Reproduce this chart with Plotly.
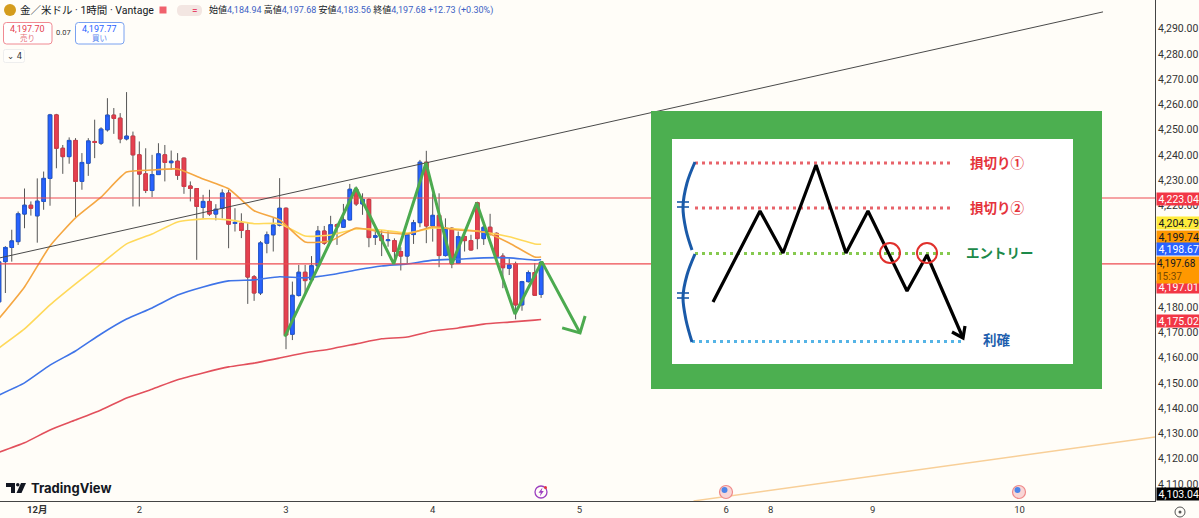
import plotly.graph_objects as go

JP = "Roboto, Noto Sans CJK JP"
UI = "Roboto"
BG = "#fffdf8"

# Hourly candles. Index 0 is the first bar at the left edge
bar_open = [4182, 4197.9, 4203.5, 4205.8, 4216.7, 4220.2, 4216, 4221.7, 4230.8, 4255.9,
            4242.7, 4239.4, 4245.8, 4229.6, 4236.8, 4245.4, 4244.7, 4250, 4255.8, 4254.6,
            4246.4, 4247.5, 4240.1, 4232.6, 4226, 4232.3, 4240.1, 4237, 4237.6, 4238.8,
            4227.8, 4226.8, 4219.3, 4221.7, 4216.7, 4218.9, 4225, 4213, 4213.1, 4210.2,
            4191.9, 4185.5, 4205.2, 4208.5, 4212.3, 4219, 4169.2, 4184.5, 4193.7, 4190.7,
            4196.2, 4210, 4206.2, 4212.5, 4211.5, 4214.4, 4226.5, 4220.7, 4222.5, 4207.5,
            4208.1, 4206.2, 4206.2, 4201.9, 4200.1, 4208.6, 4213.3, 4237.2, 4212, 4216.2,
            4200.3, 4211.1, 4197.3, 4207.8, 4206.2, 4221.2, 4207, 4211.5, 4209.1, 4200.1,
            4195.3, 4197, 4180.8, 4190, 4193.6, 4184.94]
bar_high = [4198, 4204, 4210.5, 4217.7, 4226.8, 4221.7, 4230.8, 4233.5, 4256.3, 4256.3,
            4244, 4247, 4246.7, 4240.8, 4246.7, 4254, 4251, 4262.5, 4258.6, 4256.6,
            4264.9, 4249.3, 4245.4, 4242.7, 4240.1, 4244.7, 4244, 4241.8, 4240.8, 4239,
            4229.6, 4227, 4224.3, 4226.3, 4220.6, 4226.5, 4226.3, 4219, 4217, 4213.1,
            4192.6, 4206, 4209.8, 4215.1, 4230.9, 4219.3, 4190, 4196.6, 4196.6, 4200.1,
            4212, 4212, 4216, 4213, 4220.7, 4228.6, 4227.6, 4224.9, 4222.9, 4211.1,
            4210.4, 4210.2, 4207.1, 4203.6, 4209.1, 4214.4, 4238.1, 4241.7, 4224.9, 4224.9,
            4215, 4211.5, 4209.8, 4209.8, 4208.5, 4221.6, 4212, 4216.8, 4209.4, 4201.2,
            4199.2, 4197.9, 4190.3, 4194.4, 4197.3, 4197.68]
bar_low = [4181.5, 4185.5, 4197.9, 4204.5, 4211.1, 4216.1, 4205.4, 4218.4, 4220, 4234.8,
           4232.6, 4236.6, 4215.3, 4226.3, 4231.8, 4238.8, 4244, 4249.3, 4248.4, 4244.7,
           4245.8, 4219.7, 4219.7, 4225, 4223.4, 4232.2, 4229.6, 4234.2, 4230.2, 4224.7,
           4221.7, 4198.6, 4214.7, 4216, 4214.2, 4215, 4203.2, 4209.8, 4207.2, 4181.2,
           4182.4, 4184.7, 4201.2, 4201.9, 4211.8, 4163.3, 4166.9, 4184.1, 4185.4, 4190,
           4195.9, 4204.5, 4205.2, 4204.5, 4211.3, 4214.2, 4219.9, 4216.4, 4203.6, 4204.5,
           4200.1, 4203.8, 4197.3, 4194.4, 4197.3, 4204.9, 4211.5, 4205.2, 4205.8, 4195.7,
           4199.9, 4195.3, 4197, 4201.9, 4202.3, 4202.8, 4204.5, 4208.2, 4197.3, 4187.4,
           4192.6, 4175.1, 4178.5, 4189.6, 4184.4, 4183.56]
bar_close = [4197.8, 4203.5, 4206.1, 4216.8, 4220.2, 4219, 4221.8, 4230.8, 4255.9, 4242.7,
             4239.4, 4245.8, 4229.6, 4237.1, 4245.6, 4245, 4250.3, 4255.8, 4254.5, 4246.4,
             4247.5, 4240.1, 4232.5, 4226, 4232.3, 4240.5, 4237.1, 4237.6, 4232, 4227.6,
             4226.8, 4219.7, 4221.7, 4216.7, 4218.6, 4225, 4212.7, 4213.4, 4210.2, 4191.8,
             4185.5, 4205.3, 4208.5, 4212.4, 4219, 4168.9, 4184.6, 4193.7, 4190.4, 4196.3,
             4210, 4205.2, 4212.5, 4211.7, 4214.4, 4226.5, 4220.7, 4222.5, 4207.4, 4208.1,
             4206.2, 4206.5, 4201.9, 4200.1, 4208.7, 4213.3, 4237.2, 4212, 4216.2, 4200.3,
             4211.1, 4197, 4207.8, 4206.2, 4202.5, 4207, 4211.5, 4208.8, 4199.9, 4195.5,
             4196.6, 4180.8, 4190, 4193.6, 4184.6, 4197.68]

# Moving averages, sampled every few bars
ma_idx = [0, 4, 8, 12, 16, 20, 24, 28, 32, 36, 40, 44, 48, 52, 56, 60, 64, 68, 72, 76, 80, 84, 85]
ma_orange = [4175.4, 4187.9, 4204.1, 4215.2, 4223.4, 4233.3, 4234.1, 4234.5, 4230.6, 4226.7, 4218, 4214.4,
             4205.7, 4206.1, 4211.2, 4209.6, 4208.8, 4211.7, 4210.4, 4209.6, 4205.3, 4199.7, 4199.74]
ma_yellow = [4163.8, 4171.3, 4180.8, 4189.1, 4197, 4204.9, 4208.8, 4213.6, 4214.8, 4214.4, 4212.9, 4212.9,
             4208, 4208.4, 4210.8, 4210.4, 4209.2, 4211.2, 4210.8, 4209.6, 4207.7, 4204.9, 4204.79]
ma_blue = [4145.2, 4150, 4157, 4162.6, 4169.3, 4175.2, 4179.6, 4184.7, 4187.9, 4190.3, 4190.7, 4191.9,
           4191.5, 4192.7, 4194.6, 4196.2, 4197, 4198.5, 4198.9, 4199.4, 4199.4, 4198.5, 4198.67]
ma_red = [4122.6, 4126.3, 4131.4, 4135.3, 4139.3, 4144, 4147.5, 4151.2, 4153.9, 4156.3, 4157.8, 4159.8,
          4161.9, 4163.4, 4165.4, 4167.4, 4168.1, 4170.5, 4171.7, 4173.2, 4174, 4174.8, 4175.02]

# Hand drawn lines on the chart
level_prices = [4223.04, 4197.01]
black_trend_idx = [0.157, 173.1]
black_trend_price = [4199.4, 4296.6]
orange_trend_idx = [108.9, 181.25]
orange_trend_price = [4103.3, 4128.6]
zigzag_idx = [44.8, 55.97, 61.9, 66.95, 71, 74.9, 80.9, 85.1, 91.1]
zigzag_price = [4168.3, 4227, 4197, 4236.9, 4197, 4221.1, 4177.2, 4197.9, 4169.7]
zig_head_idx = [88.3, 91.1, 91.9]
zig_head_price = [4171.7, 4169.7, 4176.4]

day_idx = [6, 22, 45, 68, 91, 114, 121, 137, 160]
day_labels = ["<b>12月</b>", "2", "3", "4", "5", "6", "8", "9", "10"]
# 4,190 to 4,210 sit fully behind the price tags
price_ticks = [4110, 4120, 4130, 4140, 4150, 4160, 4170, 4180, 4220, 4230, 4240, 4250, 4260, 4270, 4280, 4290, 4300]

# Right hand price tags: text, fill, text colour, centre y on the page
tag_texts = ["4,223.04", "4,204.79", "4,199.74", "4,198.67", "4,197.01", "4,175.02", "4,103.04"]
tag_fills = ["#f23645", "#ffeb3b", "#ff9800", "#2962ff", "#f23645", "#f23645", "#000000"]
tag_fonts = ["#ffffff", "#131722", "#131722", "#ffffff", "#ffffff", "#ffffff", "#ffffff"]
tag_rows = [199, 223, 237, 249, 287, 320.5, 494]

# Inset diagram, in page pixels
inset_outer = [651, 1102, 111, 389]
inset_inner = [672, 1073, 139, 364]
sketch_x = [713, 760, 783, 816, 846, 868, 907, 927, 963]
sketch_y = [302, 211, 253, 165, 253, 211, 291, 255, 338]
sketch_head_x = [952, 963, 965]
sketch_head_y = [332, 338, 326]
dotted = [(695, 950, 163, "#e8636a"), (695, 950, 208, "#e8636a"),
          (695, 950, 253.5, "#86c94f"), (692, 962, 341.5, "#55b4e6")]
brace_x = [[695, 687, 683, 686, 692], [695, 687, 683, 686, 692]]
brace_y = [[162, 183, 207, 230, 250], [254, 275, 297, 320, 342]]
brace_ticks = [202, 207, 293, 298]
circle_x = [890, 927]
circle_y = [253, 253]
inset_texts = ["損切り①", "損切り②", "エントリー", "利確"]
inset_text_x = [997, 997, 1000, 997]
inset_text_y = [163, 208, 253, 340]
inset_text_colors = ["#e5343c", "#e5343c", "#1c8a4a", "#1f5fae"]


def rounded(x0, y0, x1, y1, r):
    return (f"M{x0+r},{y0} L{x1-r},{y0} Q{x1},{y0} {x1},{y0+r} L{x1},{y1-r} Q{x1},{y1} {x1-r},{y1} "
            f"L{x0+r},{y1} Q{x0},{y1} {x0},{y1-r} L{x0},{y0+r} Q{x0},{y0} {x0+r},{y0} Z")


def page_text(x, y, text, size=10, color="#131722", anchor="left", family=UI):
    fig.add_annotation(x=x, y=y, xref="x2", yref="y2", text=text, showarrow=False, xanchor=anchor,
                       yanchor="middle", font=dict(family=family, size=size, color=color), borderpad=0)


def page_line(x, y, color, width, dash=None, shape="linear"):
    fig.add_trace(go.Scatter(x=x, y=y, xaxis="x2", yaxis="y2", mode="lines",
                             line=dict(color=color, width=width, dash=dash, shape=shape), hoverinfo="skip"))


def page_fill(x0, x1, y0, y1, color):
    fig.add_trace(go.Scatter(x=[x0, x1, x1, x0, x0], y=[y0, y0, y1, y1, y0], xaxis="x2", yaxis="y2",
                             mode="lines", fill="toself", fillcolor=color, line=dict(width=0), hoverinfo="skip"))


def page_dot(x, y, size, color, line_color=None, line_width=0, symbol="circle"):
    fig.add_trace(go.Scatter(x=[x], y=[y], xaxis="x2", yaxis="y2", mode="markers", hoverinfo="skip",
                             marker=dict(size=size, color=color, symbol=symbol,
                                         line=dict(color=line_color, width=line_width))))


fig = go.Figure()
bars = list(range(len(bar_open)))

# Wicks are dark, bodies coloured, so the candles go in as two traces
fig.add_trace(go.Candlestick(x=bars, open=bar_open, high=bar_high, low=bar_low, close=bar_close,
                             increasing=dict(line=dict(color="#555555", width=1), fillcolor="#2962ff"),
                             decreasing=dict(line=dict(color="#555555", width=1), fillcolor="#e5414f"),
                             whiskerwidth=0, hoverinfo="skip"))
fig.add_trace(go.Candlestick(x=bars, open=bar_open, close=bar_close,
                             high=[max(o, c) for o, c in zip(bar_open, bar_close)],
                             low=[min(o, c) for o, c in zip(bar_open, bar_close)],
                             increasing=dict(line=dict(color="#2058d8", width=1), fillcolor="#2962ff"),
                             decreasing=dict(line=dict(color="#d83a48", width=1), fillcolor="#e5414f"),
                             whiskerwidth=0, hoverinfo="skip"))

for values, color, width in [(ma_red, "#e2505c", 1.6), (ma_blue, "#3f74e8", 1.6),
                             (ma_yellow, "#ffd95a", 1.6), (ma_orange, "#f5a742", 1.6)]:
    fig.add_trace(go.Scatter(x=ma_idx, y=values, mode="lines", hoverinfo="skip",
                             line=dict(color=color, width=width, shape="spline", smoothing=0.5)))

for level in level_prices:
    fig.add_trace(go.Scatter(x=[0.157, 181.25], y=[level, level], mode="lines", hoverinfo="skip",
                             line=dict(color="#ee4a50", width=1.2)))
fig.add_trace(go.Scatter(x=black_trend_idx, y=black_trend_price, mode="lines", hoverinfo="skip",
                         line=dict(color="#4a4a4a", width=1)))
fig.add_trace(go.Scatter(x=orange_trend_idx, y=orange_trend_price, mode="lines", hoverinfo="skip",
                         line=dict(color="#f8cf98", width=1.4)))
fig.add_trace(go.Scatter(x=zigzag_idx, y=zigzag_price, mode="lines", hoverinfo="skip",
                         line=dict(color="#4caa4f", width=3)))
fig.add_trace(go.Scatter(x=zig_head_idx, y=zig_head_price, mode="lines", hoverinfo="skip",
                         line=dict(color="#4caa4f", width=3)))

# Inset diagram sits on top of the chart
page_fill(inset_outer[0], inset_outer[1], inset_outer[2], inset_outer[3], "#4caf50")
page_fill(inset_inner[0], inset_inner[1], inset_inner[2], inset_inner[3], "#ffffff")
for x0, x1, y, color in dotted:
    page_line([x0, x1], [y, y], color, 3, dash="3px,4px")
for bx, by in zip(brace_x, brace_y):
    page_line(bx, by, "#1a5aa8", 3, shape="spline")
for y in brace_ticks:
    page_line([677, 689], [y, y], "#1a5aa8", 1.6)
page_line(sketch_x, sketch_y, "#000000", 3.2)
page_line(sketch_head_x, sketch_head_y, "#000000", 3.2)
for cx, cy in zip(circle_x, circle_y):
    page_dot(cx, cy, 20, "rgba(0,0,0,0)", "#e0302c", 2)

# Symbol icon, flag, status pill
page_dot(10, 10, 12, "#d49c1d")
page_dot(163, 10, 7, "#f0616d", symbol="square")
page_dot(183, 10, 6, "#1b9e77")

# Event icons on the time axis
page_dot(541, 492, 12, BG, "#9c3fc0", 1.3)
page_dot(545.5, 487.5, 3, "#e5343c")
page_dot(726, 492, 13, "#f9d6d6", "#ef8a8a", 1.2)
page_dot(724.5, 490, 6, "#4f86e8")
page_dot(1019, 492, 13, "#f9d6d6", "#ef8a8a", 1.2)
page_dot(1017.5, 490, 6, "#4f86e8")
page_dot(1180, 512, 10, BG, "#555555", 1)
page_dot(1180, 512, 3, "#555555")

shapes = [
    dict(type="path", path=rounded(3.5, 22.5, 52, 44, 3), line=dict(color="#f08a92", width=1), fillcolor="#ffffff"),
    dict(type="path", path=rounded(75.5, 22.5, 124, 44, 3), line=dict(color="#7aa2f0", width=1), fillcolor="#ffffff"),
    dict(type="path", path=rounded(3.5, 49.5, 24.5, 62.5, 2), line=dict(color="#eeeeee", width=1), fillcolor="#fffefb"),
    dict(type="path", path=rounded(177, 5, 202, 16, 5), line=dict(width=0), fillcolor="#f3e6e2"),
    # TradingView mark
    dict(type="path", path="M6,483 L15,483 L15,493 L11,493 L11,487 L6,487 Z", fillcolor="#131722", line=dict(width=0)),
    dict(type="circle", x0=16, x1=19.5, y0=483, y1=486.5, fillcolor="#131722", line=dict(width=0)),
    dict(type="path", path="M21,483 L26,483 L21.5,493 L16.5,493 Z", fillcolor="#131722", line=dict(width=0)),
    # Lightning bolt in the event icon
    dict(type="path", path="M542.5,487.5 L538.5,492.8 L540.8,492.8 L539.8,496.5 L543.8,491 L541.5,491 Z",
         fillcolor="#9c3fc0", line=dict(width=0)),
]
for shape in shapes:
    shape.update(xref="x2", yref="y2", layer="above")

# plot_bgcolor stays clear, the overlay axes would otherwise paint over the chart
fig.update_layout(
    width=1199, height=518, margin=dict(l=0, r=0, t=0, b=0), showlegend=False,
    paper_bgcolor=BG, plot_bgcolor="rgba(0,0,0,0)", shapes=shapes, boxgap=0.2,
    font=dict(family=UI, size=10, color="#131722"),
    xaxis=dict(domain=[0, 1155 / 1199], range=[0.157, 181.25], rangeslider=dict(visible=False),
               tickmode="array", tickvals=day_idx, ticktext=day_labels, ticks="", showgrid=False,
               zeroline=False, showline=True, linecolor="#444444", linewidth=1,
               tickfont=dict(family=JP, size=9.5, color="#333333"), anchor="y"),
    yaxis=dict(domain=[17 / 518, 1], range=[4103.3, 4301.3], side="right", tickmode="array",
               tickvals=price_ticks, ticktext=[f"{p:,.2f}" for p in price_ticks], ticks="",
               showgrid=False, zeroline=False, showline=True, linecolor="#444444", linewidth=1,
               tickfont=dict(family=UI, size=10.5, color="#333333"), anchor="x"),
    xaxis2=dict(domain=[0, 1], range=[0, 1199], visible=False, anchor="y2", fixedrange=True),
    yaxis2=dict(domain=[0, 1], range=[518, 0], visible=False, anchor="x2", fixedrange=True),
)

# Header
page_text(19, 10, "金／米ドル · 1時間 · Vantage", size=10.5, family=JP)
page_text(195, 10, "=", size=10, color="#e8466a", anchor="center")
blue = "#3d5fc4"
page_text(208, 10, f"始値<span style='color:{blue}'>4,184.94</span> 高値<span style='color:{blue}'>4,197.68</span> "
                   f"安値<span style='color:{blue}'>4,183.56</span> 終値<span style='color:{blue}'>4,197.68 +12.73 (+0.30%)</span>",
          size=9, family=JP)
page_text(27.5, 29, "4,197.70", size=9, color="#e5414f", anchor="center")
page_text(27.5, 38, "売り", size=7.5, color="#e5717a", anchor="center", family=JP)
page_text(63.5, 32.5, "0.07", size=7.5, color="#333333", anchor="center")
page_text(99.5, 29, "4,197.77", size=9, color="#2962ff", anchor="center")
page_text(99.5, 38, "買い", size=7.5, color="#5a86ee", anchor="center", family=JP)
page_text(14, 56, "⌄ 4", size=8.5, color="#333333", anchor="center", family="DejaVu Sans")

# Watermark
page_text(30, 488, "<b>TradingView</b>", size=13, color="#131722", family="Inter")

# Inset labels
for text, x, y, color in zip(inset_texts, inset_text_x, inset_text_y, inset_text_colors):
    page_text(x, y, f"<b>{text}</b>", size=13.5, color=color, anchor="center", family=JP)

# Price tags
for text, fill, color, row in zip(tag_texts, tag_fills, tag_fonts, tag_rows):
    fig.add_annotation(x=1155.5, y=row, xref="x2", yref="y2", text=text, showarrow=False, xanchor="left",
                       yanchor="middle", width=43.5, height=12, bgcolor=fill, borderpad=0,
                       font=dict(family=UI, size=10.5, color=color))
fig.add_annotation(x=1155.5, y=270, xref="x2", yref="y2", text="4,197.68<br><span style='color:#7a4a00'>15:37</span>",
                   showarrow=False, xanchor="left", yanchor="middle", width=43.5, height=26, bgcolor="#ff9800",
                   borderpad=0, align="left", font=dict(family=UI, size=10, color="#131722"))

fig.write_html("out.html", post_script="document.body.style.margin='0';", config=dict(displayModeBar=False))
